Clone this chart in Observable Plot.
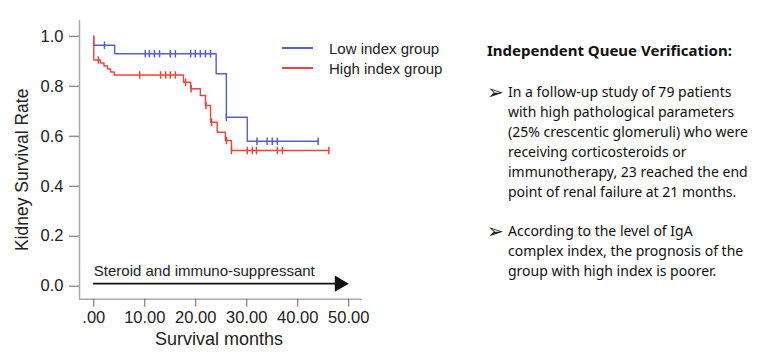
<!DOCTYPE html>
<html>
<head>
<meta charset="utf-8">
<script src="https://cdn.jsdelivr.net/npm/d3@7"></script>
<script src="https://cdn.jsdelivr.net/npm/@observablehq/plot@0.6"></script>
<style>
  html, body { margin: 0; padding: 0; background: #fff; }
  #wrap { position: relative; width: 779px; height: 364px; overflow: hidden; }
  #chart { position: absolute; left: 0; top: 0; }
  #legend { position: absolute; left: 282px; top: 38px; font-family: "Liberation Sans", Arial, sans-serif; font-size: 15px; color: #222; }
  #legend .item { display: flex; align-items: center; height: 20px; }
  #legend .sw { width: 31px; height: 2px; margin-right: 16px; }
  #notes { position: absolute; left: 487px; top: 40px; font-family: "Noto Sans", "DejaVu Sans", sans-serif; font-size: 14px; line-height: 20px; color: #111; white-space: nowrap; }
  #notes .title { font-weight: bold; font-size: 15px; margin-bottom: 22px; }
  #notes .bullet { display: flex; margin-bottom: 19px; }
  #notes .mark { width: 21px; font-family: "DejaVu Sans", sans-serif; font-size: 20px; line-height: 20px; color: #222; }
</style>
</head>
<body>
<div id="wrap">
  <div id="chart"></div>
  <div id="legend"></div>
  <div id="notes"></div>
</div>
<script>
// ---- data ----
const groups = ["Low index group", "High index group"];
const groupColors = ["#5560c6", "#e8453c"];

// Kaplan–Meier step points (months, survival)
const lowMonths  = [0, 0, 4.1, 24.0, 26.0, 30.1, 44.0];
const lowSurv    = [1.0, 0.964, 0.93, 0.85, 0.676, 0.58, 0.58];
const highMonths = [0, 0, 1.3, 2.0, 2.7, 3.3, 4.0, 17.6, 19.0, 20.9, 21.9, 22.9, 24.2, 25.8, 27.0, 46.1];
const highSurv   = [1.0, 0.905, 0.893, 0.881, 0.869, 0.857, 0.845, 0.816, 0.79, 0.763, 0.723, 0.656, 0.616, 0.583, 0.543, 0.543];

// censored observations
const lowCensMonths  = [2.1, 10.1, 10.9, 11.9, 12.9, 15.0, 16.0, 19.0, 19.9, 20.9, 21.9, 22.9, 26.0, 32.0, 34.0, 35.0, 36.0, 44.0];
const lowCensSurv    = [0.964, 0.93, 0.93, 0.93, 0.93, 0.93, 0.93, 0.93, 0.93, 0.93, 0.93, 0.93, 0.676, 0.58, 0.58, 0.58, 0.58, 0.58];
const highCensMonths = [0.9, 9.0, 13.1, 14.1, 15.0, 16.0, 18.0, 19.1, 22.0, 23.1, 26.0, 27.0, 30.1, 31.1, 31.9, 36.0, 37.0, 46.1];
const highCensSurv   = [0.905, 0.845, 0.845, 0.845, 0.845, 0.845, 0.816, 0.79, 0.723, 0.656, 0.583, 0.543, 0.543, 0.543, 0.543, 0.543, 0.543, 0.543];

// axes
const xTicks = [0, 10, 20, 30, 40, 50];
const xTickLabels = [".00", "10.00", "20.00", "30.00", "40.00", "50.00"];
const yTicks = [0, 0.2, 0.4, 0.6, 0.8, 1.0];
const yTickLabels = ["0.0", "0.2", "0.4", "0.6", "0.8", "1.0"];
const xDomain = [-2.8, 52.7];
const yDomain = [-0.052, 1.063];
const xTitle = "Survival months";
const yTitle = "Kidney Survival Rate";

// treatment annotation
const therapyLabel = "Steroid and immuno-suppressant";
const therapyStart = 0, therapyEnd = 47.4, therapyLevel = 0.01, therapyLabelLevel = 0.062;

// notes panel
const notesTitle = "Independent Queue Verification:";
const notesBullets = [
  ["In a follow-up study of 79 patients", "with high pathological parameters", "(25% crescentic glomeruli) who were", "receiving corticosteroids or", "immunotherapy, 23 reached the end", "point of renal failure at 21 months."],
  ["According to the level of IgA", "complex index, the prognosis of the", "group with high index is poorer."]
];

// ---- build tables ----
const steps = [
  ...lowMonths.map((m, i) => ({group: groups[0], month: m, surv: lowSurv[i]})),
  ...highMonths.map((m, i) => ({group: groups[1], month: m, surv: highSurv[i]}))
];
const censors = [
  ...lowCensMonths.map((m, i) => ({group: groups[0], month: m, surv: lowCensSurv[i]})),
  ...highCensMonths.map((m, i) => ({group: groups[1], month: m, surv: highCensSurv[i]}))
];
const vbar = { draw(ctx, size) { const h = Math.sqrt(size) * 0.6; ctx.moveTo(0, -h); ctx.lineTo(0, h); } };

const font = '"Liberation Sans", Arial, sans-serif';
const chart = Plot.plot({
  width: 470,
  height: 364,
  marginLeft: 79,
  marginRight: 108,
  marginTop: 20,
  marginBottom: 65.3,
  style: { fontFamily: font, fontSize: "16.5px", color: "#222", background: "white", overflow: "visible" },
  x: { domain: xDomain, axis: null },
  y: { domain: yDomain, axis: null },
  color: { domain: groups, range: groupColors },
  marks: [
    Plot.ruleX([xDomain[0]], { stroke: "#aaa", strokeWidth: 1.5 }),
    Plot.ruleY([yDomain[0]], { stroke: "#aaa", strokeWidth: 1.5 }),
    Plot.axisY(yTicks, { tickFormat: (d, i) => yTickLabels[i], tickSize: 10, tickPadding: 6, stroke: "#666", fontSize: 16.5, label: null }),
    Plot.axisX(xTicks, { tickFormat: (d, i) => xTickLabels[i], tickSize: 8, tickPadding: 4, stroke: "#666", fontSize: 16.5, label: null }),
    Plot.text([yTitle], { frameAnchor: "left", textAnchor: "middle", lineAnchor: "middle", dx: -57, dy: 10, rotate: -90, fontSize: 17.5, fill: "#222" }),
    Plot.text([xTitle], { frameAnchor: "bottom", textAnchor: "middle", lineAnchor: "middle", dx: -2, dy: 40, fontSize: 18, fill: "#222" }),
    Plot.line(steps, { x: "month", y: "surv", z: "group", stroke: "group", curve: "step-after", strokeWidth: 1.4 }),
    Plot.dot(censors, { x: "month", y: "surv", stroke: "group", symbol: vbar, r: 3.5, strokeWidth: 1.5 }),
    Plot.line([{m: therapyStart, v: therapyLevel}, {m: therapyEnd, v: therapyLevel}], { x: "m", y: "v", stroke: "#111", strokeWidth: 1.7 }),
    Plot.dot([{m: therapyEnd, v: therapyLevel}], { x: "m", y: "v", symbol: "triangle", rotate: 90, r: 6, fill: "#111", stroke: "none", dx: 4 }),
    Plot.text([therapyLabel], { x: () => therapyStart, y: () => therapyLabelLevel, textAnchor: "start", fontSize: 15, fill: "#222" })
  ]
});
document.getElementById("chart").appendChild(chart);

// legend
const legend = document.getElementById("legend");
groups.forEach((g, i) => {
  const item = document.createElement("div");
  item.className = "item";
  const sw = document.createElement("span");
  sw.className = "sw";
  sw.style.background = groupColors[i];
  const lab = document.createElement("span");
  lab.textContent = g;
  item.appendChild(sw); item.appendChild(lab);
  legend.appendChild(item);
});

// notes
const notes = document.getElementById("notes");
const t = document.createElement("div");
t.className = "title";
t.textContent = notesTitle;
notes.appendChild(t);
notesBullets.forEach(lines => {
  const b = document.createElement("div");
  b.className = "bullet";
  const mk = document.createElement("div");
  mk.className = "mark";
  mk.textContent = "\u27A2";
  const tx = document.createElement("div");
  tx.innerHTML = lines.map(l => l.replace(/&/g, "&amp;").replace(/</g, "&lt;")).join("<br>");
  b.appendChild(mk); b.appendChild(tx);
  notes.appendChild(b);
});
</script>
</body>
</html>
